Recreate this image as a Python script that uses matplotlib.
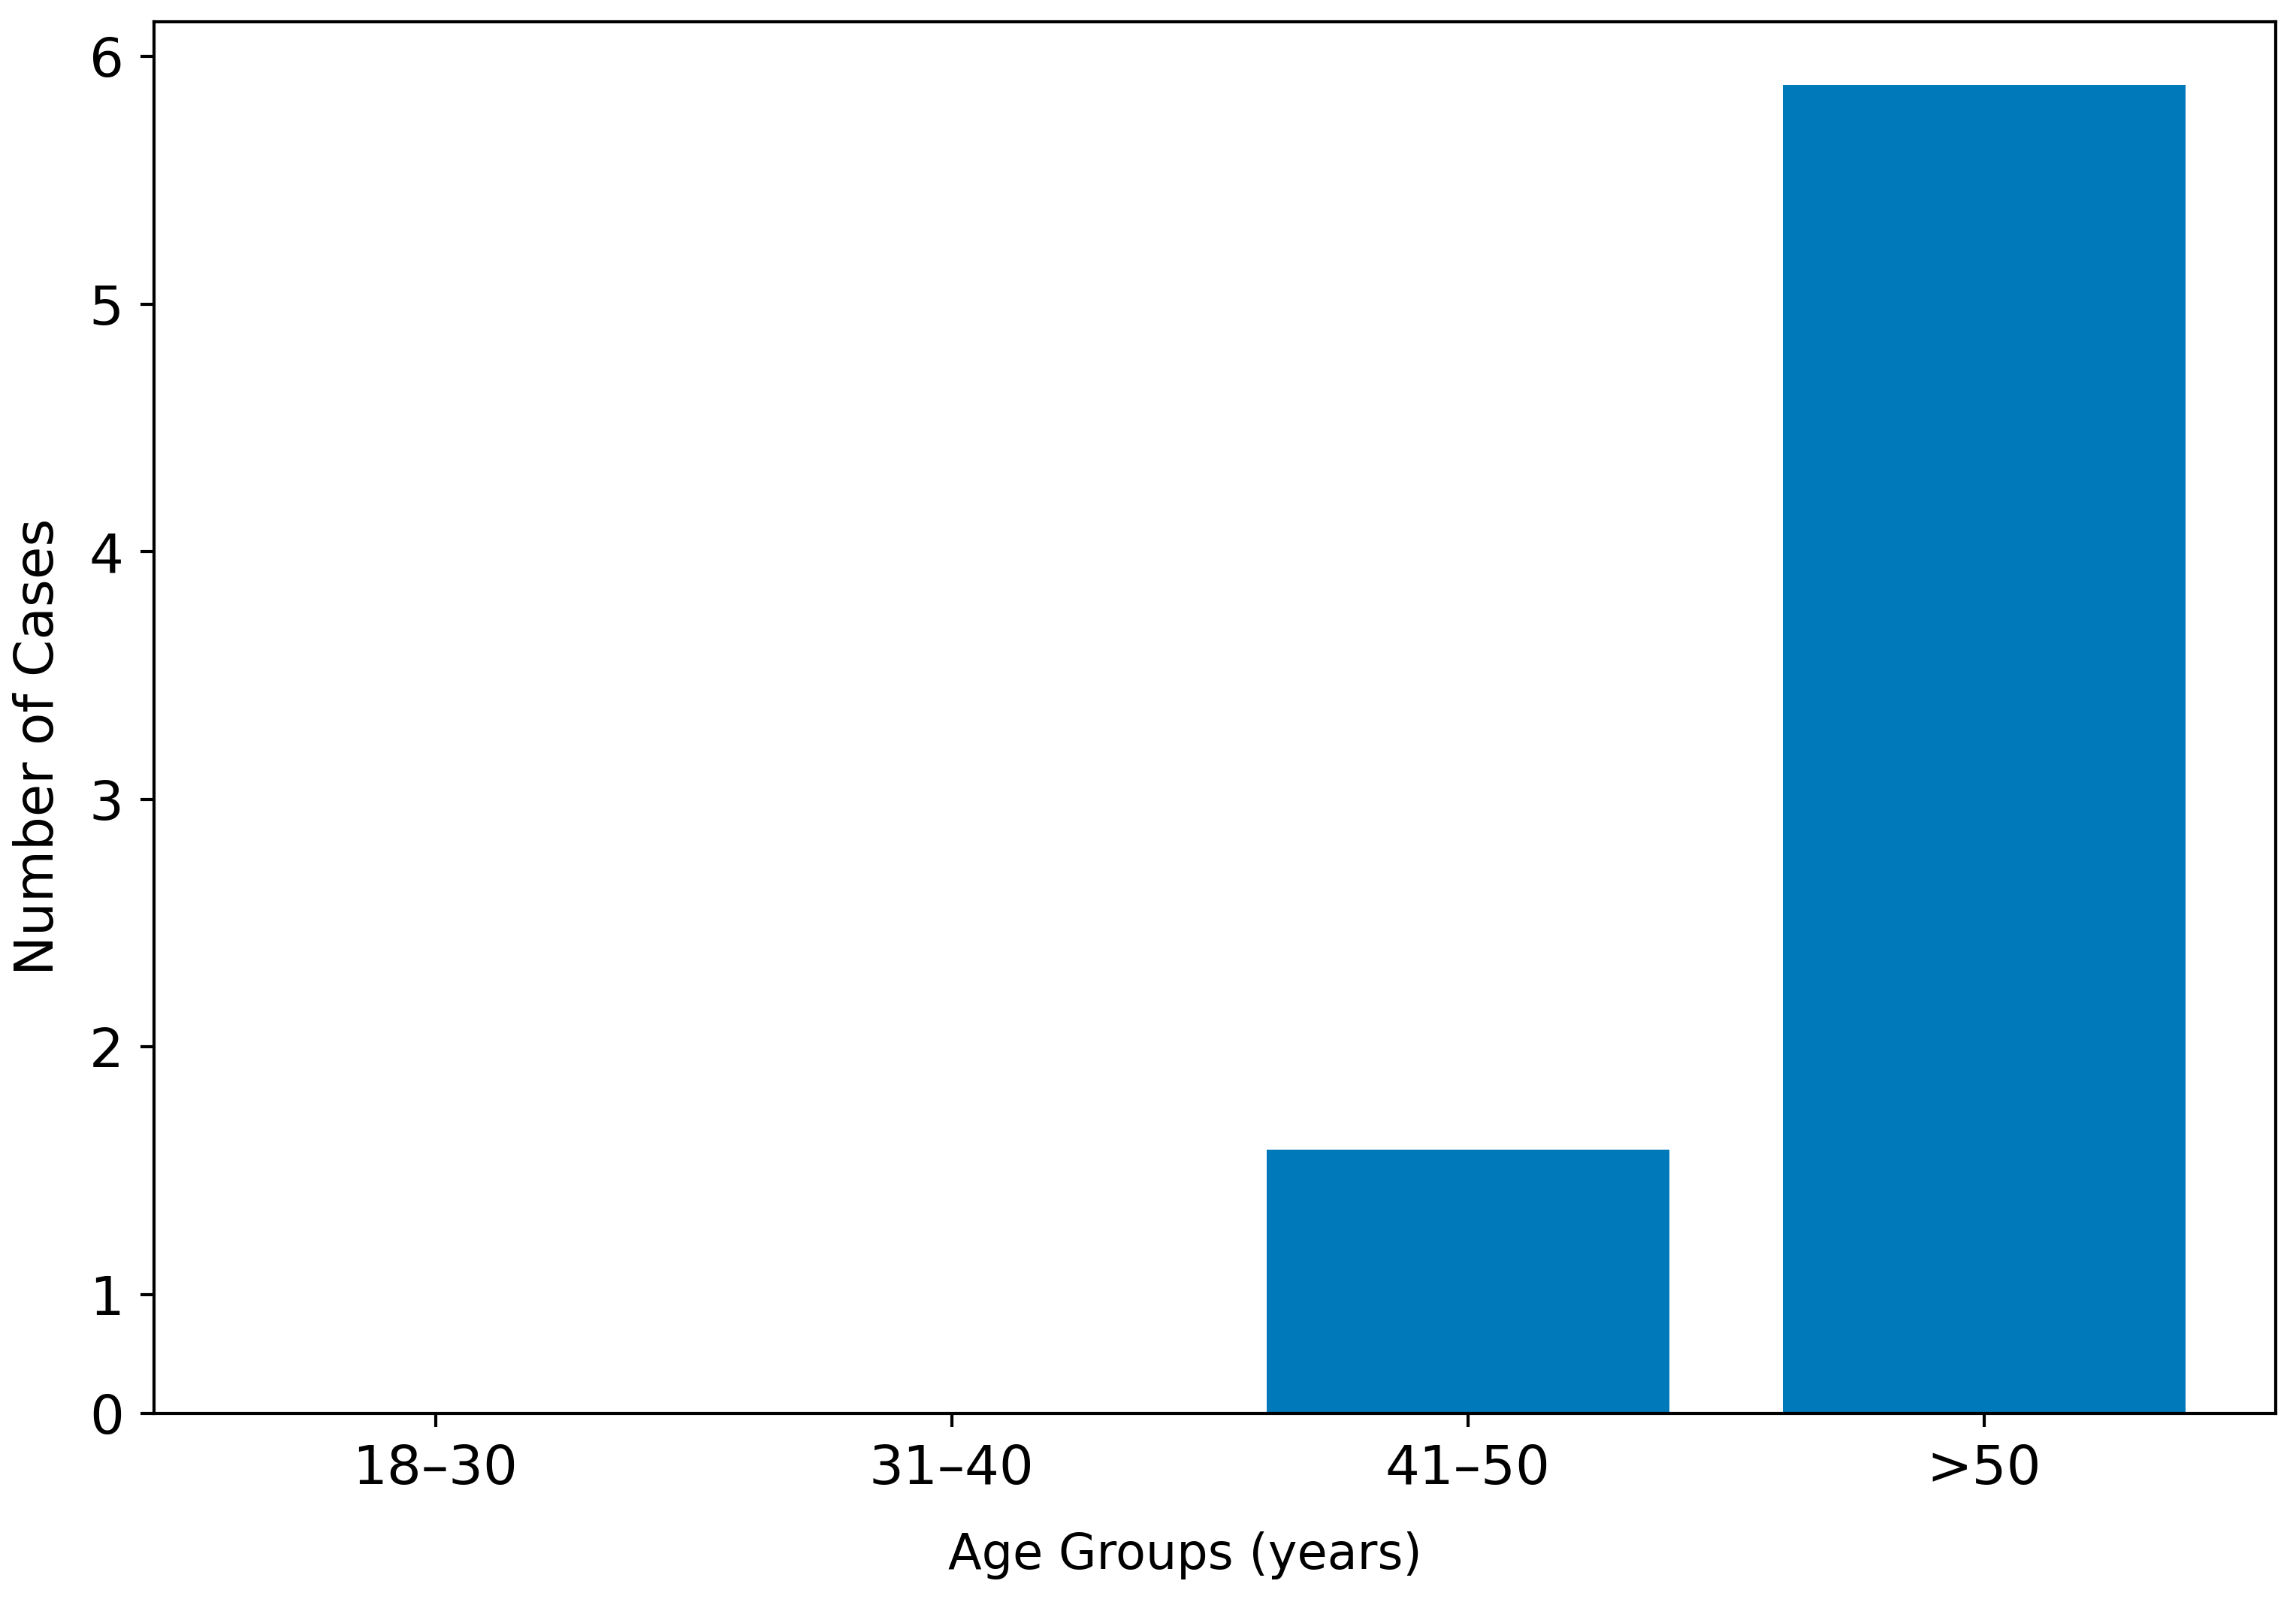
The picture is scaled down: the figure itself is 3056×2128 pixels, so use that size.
import matplotlib
matplotlib.use("Agg")
import matplotlib.pyplot as plt

categories = ["18–30", "31–40", "41–50", ">50"]
cases = [0, 0, 1.585, 5.885]
ytick_values = [1, 2, 3, 4, 5, 6]
ytick_labels = ["1", "2", "3", "4", "5", "6"]
y_bottom = 0.52
y_top = 6.14

plt.rcParams['font.family'] = ['DejaVu Sans']
fig = plt.figure(figsize=(15.28, 10.64), dpi=200)
ax = fig.add_axes([0.0671, 0.1161, 0.9241, 0.8703])

x = list(range(len(categories)))
ax.bar(x, cases, width=0.78, color="#0079BB", zorder=2)

ax.set_xlim(-0.545, 3.565)
ax.set_ylim(y_bottom, y_top)
ax.set_yticks([y_bottom] + ytick_values)
ax.set_yticklabels(["0"] + ytick_labels)
ax.set_xticks(x)
ax.set_xticklabels(categories)

for s in ax.spines.values():
    s.set_linewidth(1.5)
ax.tick_params(axis='both', labelsize=26, length=6.5, width=1.5, pad=8)
ax.set_xlabel("Age Groups (years)", fontsize=23.5)
ax.set_ylabel("Number of Cases", fontsize=25.5)
ax.xaxis.set_label_coords(0.486, -0.085)
ax.yaxis.set_label_coords(-0.042, 0.479)

fig.savefig("out.png", dpi=200)
